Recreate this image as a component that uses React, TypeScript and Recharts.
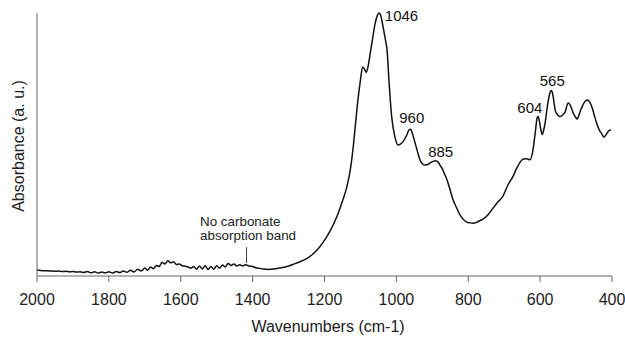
import {
  LineChart,
  Line,
  XAxis,
  YAxis,
  ReferenceDot,
  ReferenceLine,
} from 'recharts';

// FTIR spectrum (wavenumber in cm-1, absorbance in a.u.)
const wavenumbers = [
  2000, 1990, 1980, 1970, 1960, 1950, 1940, 1930, 1920, 1910, 1900, 1890, 1880, 1870, 1860,
  1850, 1840, 1830, 1820, 1810, 1800, 1790, 1780, 1770, 1760, 1750, 1740, 1730, 1720, 1710,
  1700, 1692, 1684, 1676, 1668, 1660, 1652, 1644, 1636, 1628, 1620, 1612, 1604, 1596, 1588,
  1580, 1572, 1564, 1556, 1548, 1540, 1532, 1524, 1516, 1508, 1500, 1492, 1484, 1476, 1468,
  1460, 1452, 1444, 1436, 1428, 1420, 1412, 1404, 1396, 1388, 1380, 1372, 1364, 1356, 1348,
  1340, 1320, 1300, 1288, 1270, 1250, 1241, 1220, 1205, 1185, 1166, 1150, 1138, 1128, 1121,
  1114, 1107, 1100, 1094, 1088, 1084, 1079, 1073, 1068, 1060, 1053, 1048, 1043, 1037, 1030,
  1026, 1020, 1013, 1004, 995, 988, 982, 971, 965, 960, 955, 948, 941, 934, 927,
  920, 913, 906, 898, 890, 884, 878, 873, 866, 859, 850, 842, 832, 823, 814,
  804, 795, 787, 777, 767, 759, 745, 731, 717, 703, 690, 675, 665, 656, 647,
  638, 628, 620, 614, 608, 605, 602, 597, 594, 590, 586, 581, 577, 573, 569,
  566, 563, 558, 553, 548, 544, 538, 530, 526, 522, 517, 512, 508, 502, 497,
  493, 488, 483, 476, 469, 462, 455, 448, 441, 435, 430, 422, 417, 413, 408,
  403,
];

const absorbance = [
  2.3, 2.1, 2.0, 2.0, 1.9, 1.8, 1.9, 1.7, 1.8, 1.6, 1.7, 1.5, 1.6, 1.3, 1.7,
  1.2, 1.6, 1.1, 1.5, 1.2, 1.6, 1.1, 1.7, 1.3, 1.9, 1.4, 2.2, 1.5, 2.6, 1.9,
  3.0, 2.2, 3.4, 2.8, 4.0, 3.6, 5.2, 4.6, 5.8, 5.0, 5.4, 4.4, 4.6, 3.9, 3.7,
  3.4, 3.0, 3.6, 2.6, 3.8, 2.7, 3.9, 2.5, 3.6, 2.6, 3.9, 3.0, 4.2, 3.4, 4.8,
  4.0, 4.6, 3.8, 4.3, 3.8, 4.3, 3.9, 3.7, 3.4, 3.0, 2.9, 2.7, 2.6, 2.5, 2.6,
  2.7, 3.1, 3.8, 4.4, 5.3, 6.6, 7.4, 10.0, 12.6, 17.0, 22.4, 28.5, 33.8, 40.5, 47.9,
  57.5, 66.9, 74.5, 79.5, 78.5, 77.4, 79.5, 84.5, 88.6, 95.4, 99.0, 100, 98.8, 94.7, 89.5,
  86, 73, 60.5, 52.8, 49.8, 50.2, 51, 53.6, 55.5, 55.8, 54, 50.6, 47.2, 44, 42.6,
  42.2, 42.4, 43, 43.6, 43.8, 43.3, 42, 41, 38.8, 36.5, 32.5, 28.9, 25.8, 23.2, 21.6,
  20.5, 20.2, 20.1, 20.4, 21.1, 21.6, 23.3, 25.8, 28.2, 30.5, 34.5, 38.0, 41.0, 43.2, 44.5,
  44.6, 44.2, 47.9, 54, 60.2, 60.6, 58.8, 55, 53.8, 55.5, 58.2, 63.5, 66.9, 69.5, 70.5,
  69.8, 67.5, 63, 61.6, 60.8, 60.6, 61.2, 62.5, 64.5, 65.8, 65.2, 63.6, 62, 60.5, 59.7,
  60.8, 62.8, 64.4, 66.2, 66.9, 66.1, 63.9, 60.5, 57.4, 55.4, 54.4, 52.8, 53.6, 54.5, 55.3,
  55.5,
];

const xTicks = [2000, 1800, 1600, 1400, 1200, 1000, 800, 600, 400];

// peak labels: text, wavenumber and absorbance of the peak top
const peakNames = ['1046', '960', '885', '604', '565'];
const peakWn = [1046, 960, 885, 605, 569];
const peakAbs = [100, 55.8, 43.5, 60.6, 70.5];

const noteLines = ['No carbonate', 'absorption band'];
const noteWn = 1417;
const noteFrom = 4.9;
const noteTo = 11;

const data = wavenumbers.map((wn, i) => ({ wn, abs: absorbance[i] }));

const FONT = '"Liberation Sans", Arial, sans-serif';
const AXIS = '#666';

// how each peak label sits relative to its peak
const peakStyle: Record<string, { dx: number; dy: number; anchor: 'start' | 'middle' | 'end' }> = {
  '1046': { dx: 5, dy: 8, anchor: 'start' },
  '960': { dx: 1, dy: -6, anchor: 'middle' },
  '885': { dx: 3, dy: -5, anchor: 'middle' },
  '604': { dx: 4, dy: -4, anchor: 'end' },
  '565': { dx: 1, dy: -5, anchor: 'middle' },
};

export default function App() {
  return (
    <div style={{ position: 'absolute', left: 0, top: 0, width: 625, height: 337, background: '#fff' }}>
      <LineChart
        width={625}
        height={337}
        data={data}
        margin={{ top: 13, right: 13, bottom: 0, left: 36 }}
      >
        <XAxis
          dataKey="wn"
          type="number"
          domain={[400, 2000]}
          reversed
          ticks={xTicks}
          interval={0}
          height={61}
          tickSize={6}
          tickMargin={12}
          axisLine={{ stroke: AXIS, strokeWidth: 1 }}
          tickLine={{ stroke: AXIS, strokeWidth: 1 }}
          tick={{ fill: '#222', fontSize: 16, fontFamily: FONT }}
        />
        <YAxis
          type="number"
          domain={[0, 100]}
          width={1}
          tick={false}
          tickLine={false}
          axisLine={{ stroke: AXIS, strokeWidth: 1 }}
        />
        <Line
          type="monotone"
          dataKey="abs"
          stroke="#111"
          strokeWidth={1.5}
          dot={false}
          isAnimationActive={false}
        />
        <ReferenceLine
          segment={[
            { x: noteWn, y: noteFrom },
            { x: noteWn, y: noteTo },
          ]}
          stroke="#444"
          strokeWidth={1}
        />
        <ReferenceDot
          x={noteWn}
          y={noteTo}
          r={0}
          fill="none"
          stroke="none"
          label={(props: any) => {
            const vb = props.viewBox;
            return (
              <text fontSize={13.4} fontFamily={FONT} fill="#222">
                {noteLines.map((t, i) => (
                  <tspan key={t} x={vb.x - 46.5} y={vb.y - 21 + i * 14}>
                    {t}
                  </tspan>
                ))}
              </text>
            );
          }}
        />
        {peakNames.map((name, i) => (
          <ReferenceDot
            key={name}
            x={peakWn[i]}
            y={peakAbs[i]}
            r={0}
            fill="none"
            stroke="none"
            label={(props: any) => {
              const vb = props.viewBox;
              const s = peakStyle[name];
              return (
                <text
                  x={vb.x + s.dx}
                  y={vb.y + s.dy}
                  textAnchor={s.anchor}
                  fontSize={15}
                  fontFamily={FONT}
                  fill="#111"
                >
                  {name}
                </text>
              );
            }}
          />
        ))}
      </LineChart>
      <svg
        width={625}
        height={337}
        style={{ position: 'absolute', left: 0, top: 0, pointerEvents: 'none' }}
      >
        <text x={328} y={332} textAnchor="middle" fontSize={16} fontFamily={FONT} fill="#222">
          Wavenumbers (cm-1)
        </text>
        <text
          x={24}
          y={146}
          transform="rotate(-90, 24, 146)"
          textAnchor="middle"
          fontSize={16}
          fontFamily={FONT}
          fill="#222"
        >
          Absorbance (a. u.)
        </text>
      </svg>
    </div>
  );
}
